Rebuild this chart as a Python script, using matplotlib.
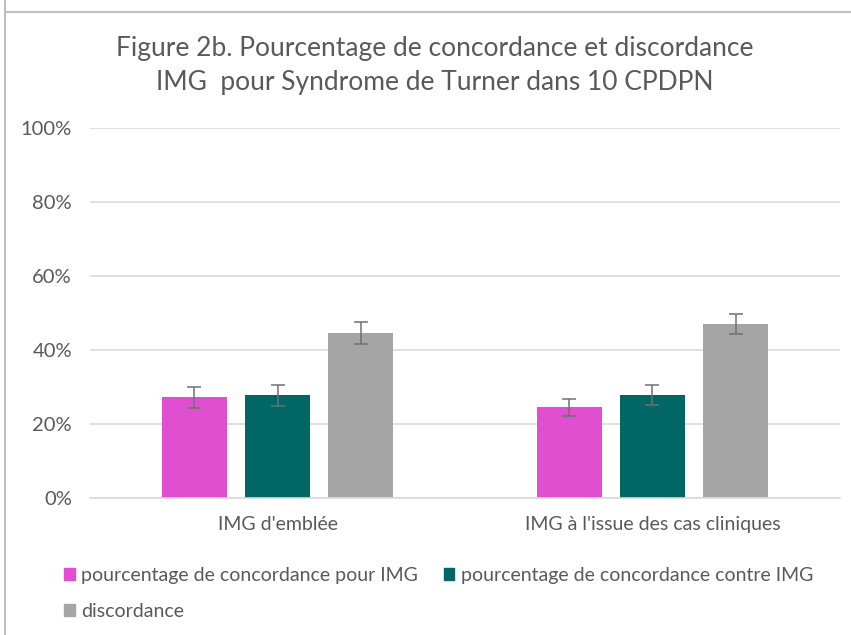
import numpy as np
import matplotlib
matplotlib.use("Agg")
from matplotlib import pyplot as plt
from matplotlib.lines import Line2D
from matplotlib.patches import Patch

plt.rcParams['font.family'] = ['Lato', 'DejaVu Sans']

categories = ["IMG d'emblée", "IMG à l'issue des cas cliniques"]
series = ["pourcentage de concordance pour IMG",
          "pourcentage de concordance contre IMG",
          "discordance"]
pour_img = [27.2, 24.5]
contre_img = [27.8, 27.9]
discordance = [44.7, 47.0]
err_pour = [2.9, 2.3]
err_contre = [2.8, 2.7]
err_disc = [3.0, 2.8]

colors = ["#E04FD0", "#006666", "#A5A5A5"]
text_col = "#595959"

fig = plt.figure(figsize=(8.51, 6.35), dpi=100)
ax = fig.add_axes([0.1058, 0.2157, 0.8812, 0.5827])

x = np.arange(len(categories))
w = 0.173
offs = [-0.222, 0.0, 0.222]
vals = [pour_img, contre_img, discordance]
errs = [err_pour, err_contre, err_disc]
for i in range(3):
    ax.bar(x + offs[i], vals[i], w, color=colors[i], zorder=2)
    ax.errorbar(x + offs[i], vals[i], yerr=errs[i], fmt='none',
                ecolor="#707070", elinewidth=1.1, capsize=5, capthick=1.1, zorder=3)

ax.set_ylim(0, 100)
ax.set_xlim(-0.5, 1.5)
ax.set_yticks(range(0, 101, 20))
ax.set_yticklabels([f"{v}%" for v in range(0, 101, 20)])
ax.set_xticks(x)
ax.set_xticklabels(categories)
ax.tick_params(axis='both', length=0, colors=text_col, labelsize=14)
ax.tick_params(axis='y', pad=13, labelsize=14.5)
ax.tick_params(axis='x', pad=13)
ax.grid(axis='y', color="#D9D9D9", linewidth=1.2, zorder=0)
for s in ['left', 'right', 'top']:
    ax.spines[s].set_visible(False)
ax.spines['bottom'].set_color("#D9D9D9")
ax.spines['bottom'].set_linewidth(1.2)

fig.text(0.511, 0.924, "Figure 2b. Pourcentage de concordance et discordance",
         ha='center', va='center', fontsize=19, color=text_col)
fig.text(0.511, 0.870, "IMG  pour Syndrome de Turner dans 10 CPDPN",
         ha='center', va='center', fontsize=19, color=text_col)

# legend: order so that rows read A B / C
handles = [Patch(color=c) for c in colors]
order = [0, 2, 1]
fig.legend([handles[i] for i in order], [series[i] for i in order],
           ncol=2, loc='upper left', bbox_to_anchor=(0.066, 0.119),
           frameon=False, fontsize=14, labelcolor=text_col,
           handlelength=0.55, handleheight=0.55, handletextpad=0.35,
           columnspacing=1.3, labelspacing=0.95, borderaxespad=0)

# chart border remnants
fig.add_artist(Line2D([5/851, 5/851], [0, 1], transform=fig.transFigure,
                      color="#BFBFBF", linewidth=1.5))
fig.add_artist(Line2D([5/851, 1], [1-12/635, 1-12/635], transform=fig.transFigure,
                      color="#BFBFBF", linewidth=1.5))

fig.savefig("out.png", dpi=100, facecolor='white')
